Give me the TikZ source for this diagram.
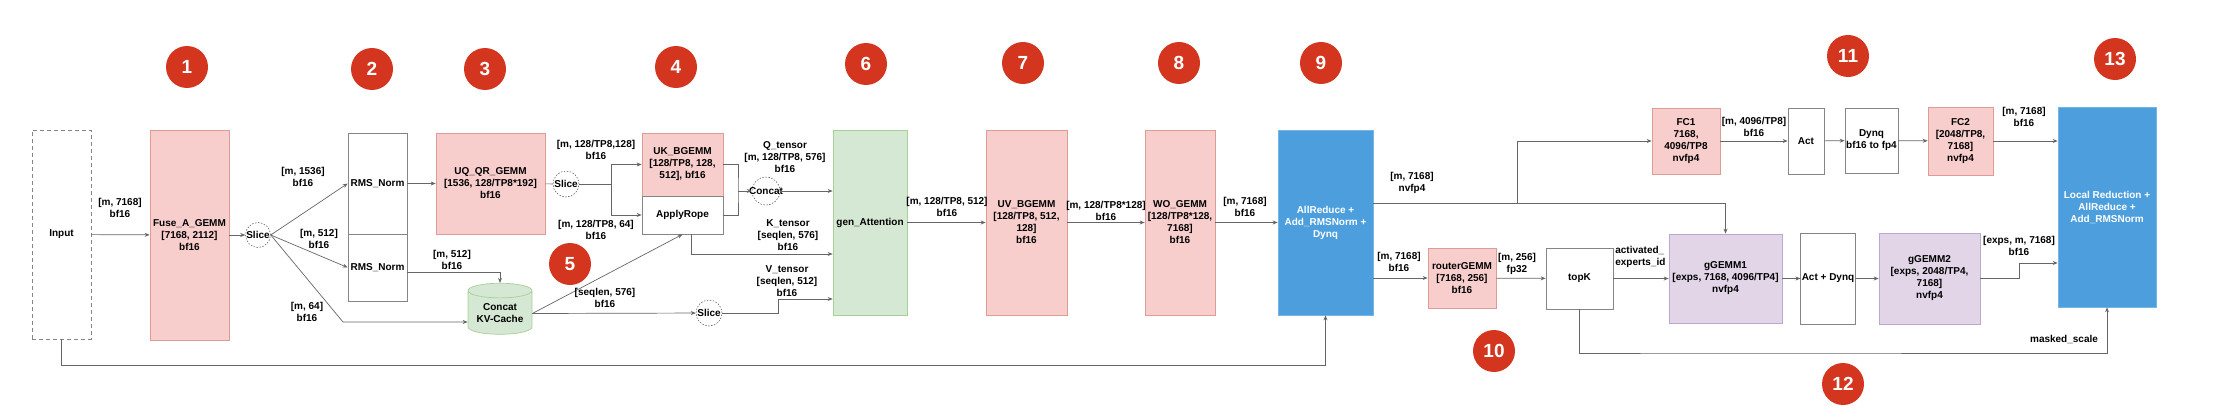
\documentclass[tikz,border=0pt]{standalone}
\usepackage{fontspec}
\setmainfont{Liberation Sans}
\usetikzlibrary{arrows.meta,shapes.geometric}
\definecolor{wire}{HTML}{666666}
\definecolor{boxline}{HTML}{858585}
\definecolor{gemmfill}{HTML}{F8CECC}
\definecolor{gemmline}{HTML}{DE9C99}
\definecolor{attnfill}{HTML}{D5E8D4}
\definecolor{attnline}{HTML}{A9CF97}
\definecolor{moefill}{HTML}{E1D5E7}
\definecolor{moeline}{HTML}{BBA8CF}
\definecolor{redfill}{HTML}{4C9FDC}
\definecolor{redline}{HTML}{74B6E6}
\definecolor{badgered}{HTML}{D3351F}

\begin{document}
\begin{tikzpicture}[x=1pt, y=-1pt, line width=0.7pt,
	 >={Stealth[length=5pt, width=4pt]},
	 font=\fontsize{10}{12}\selectfont\bfseries,
	 every path/.style={draw=wire},
	 box/.style={draw=boxline, fill=white, align=center, inner sep=1pt},
	 gemm/.style={box, draw=gemmline, fill=gemmfill},
	 attnbox/.style={box, draw=attnline, fill=attnfill},
	 moebox/.style={box, draw=moeline, fill=moefill},
	 commbox/.style={box, draw=redline, fill=redfill, text=white},
	 slicer/.style={circle, draw=black!70, dash pattern=on 1.5pt off 1.5pt, line width=0.5pt, minimum size=#1, inner sep=0pt},
	 lbl/.style={align=center, inner sep=0pt},
	 badge/.style={circle, fill=badgered, draw=none, text=white, minimum size=42pt, inner sep=0pt, font=\fontsize{19}{19}\selectfont\bfseries}]
	\useasboundingbox[draw=none] (0,0) rectangle (2240,420);
	    \node (b1) at (187,67) [badge] {1};
	    \node (b2) at (372,69) [badge] {2};
	    \node (b3) at (485,69) [badge] {3};
	    \node (b4) at (676,67) [badge] {4};
	    \node (b5) at (570,264) [badge] {5};
	    \node (b6) at (866,64) [badge] {6};
	    \node (b7) at (1023,63) [badge] {7};
	    \node (b8) at (1179,63) [badge] {8};
	    \node (b9) at (1321,63) [badge] {9};
	    \node (b10) at (1494,351) [badge] {10};
	    \node (b11) at (1848,56) [badge] {11};
	    \node (b12) at (1843,384) [badge] {12};
	    \node (b13) at (2115,59) [badge] {13};
	    \node (input) at (61.5,234.5) [box, dash pattern=on 4pt off 3pt, minimum width=59pt, minimum height=209pt] {Input};
	    \node (fuse) at (189.5,235) [gemm, minimum width=79pt, minimum height=210pt] {Fuse\_A\_GEMM\\{}[7168, 2112]\\bf16};
	    \node (slice1) at (258,235) [slicer=25pt, label=center:Slice] {};
	    \node (rms1) at (377.5,183.5) [box, minimum width=59pt, minimum height=101pt] {RMS\_Norm};
	    \node (rms2) at (377.5,267.5) [box, minimum width=59pt, minimum height=67pt] {RMS\_Norm};
	    \node (uqqr) at (490.5,183.5) [gemm, minimum width=109pt, minimum height=101pt] {UQ\_QR\_GEMM\\{}[1536, 128/TP8*192]\\bf16};
	    \node (slice2) at (566,184) [slicer=26pt, label=center:Slice] {};
	    \node (ukb) at (682.5,164.5) [gemm, minimum width=81pt, minimum height=63pt] {UK\_BGEMM\\{}[128/TP8, 128,\\512], bf16};
	    \node (rope) at (682.5,215) [box, minimum width=81pt, minimum height=38pt] {ApplyRope};
	    \node (kvc) at (500,313.5) [cylinder, shape border rotate=90, aspect=0.3, draw=attnline, fill=attnfill, align=center, inner sep=1pt, minimum width=64pt, minimum height=51pt] {Concat\\KV-Cache};
	    \node (slice3) at (709,313) [slicer=26pt, label=center:Slice] {};
	    \node (concat) at (766,191) [slicer=28pt, label=center:Concat] {};
	    \coordinate (qsplit) at (611,184);
	    \coordinate (qjoin) at (738,191);
	    \node (attn) at (870,222.5) [attnbox, minimum width=74pt, minimum height=185pt] {gen\_Attention};
	    \node (uvb) at (1026.5,222.5) [gemm, minimum width=81pt, minimum height=185pt] {UV\_BGEMM\\{}[128/TP8, 512,\\128]\\bf16};
	    \node (wo) at (1180,222.5) [gemm, minimum width=70pt, minimum height=185pt] {WO\_GEMM\\{}[128/TP8*128,\\7168]\\bf16};
	    \node (allr) at (1325.5,222.5) [commbox, minimum width=95pt, minimum height=185pt] {AllReduce +\\Add\_RMSNorm +\\Dynq};
	    \node (router) at (1462,278) [gemm, minimum width=68pt, minimum height=60pt] {routerGEMM\\{}[7168, 256]\\bf16};
	    \node (topk) at (1579.5,278.5) [box, minimum width=67pt, minimum height=61pt] {topK};
	    \node (ggemm1) at (1725.5,278.5) [moebox, minimum width=113pt, minimum height=89pt] {gGEMM1\\{}[exps, 7168, 4096/TP4]\\nvfp4};
	    \node (fc1) at (1686,141) [gemm, minimum width=68pt, minimum height=66pt] {FC1\\7168,\\4096/TP8\\nvfp4};
	    \node (act) at (1806,141) [box, minimum width=36pt, minimum height=66pt] {Act};
	    \node (dynq) at (1871.5,140.5) [box, minimum width=53pt, minimum height=65pt] {Dynq\\bf16 to fp4};
	    \node (fc2) at (1960.5,141) [gemm, minimum width=65pt, minimum height=68pt] {FC2\\{}[2048/TP8,\\7168]\\nvfp4};
	    \node (actdq) at (1828,278.5) [box, minimum width=54pt, minimum height=91pt] {Act + Dynq};
	    \node (ggemm2) at (1929.5,278.5) [moebox, minimum width=101pt, minimum height=91pt] {gGEMM2\\{}[exps, 2048/TP4,\\7168]\\nvfp4};
	    \node (localr) at (2107,207) [commbox, minimum width=98pt, minimum height=200pt] {Local Reduction +\\AllReduce +\\Add\_RMSNorm};
	    \draw[->] (input) -- (fuse);
	    \node (t1) at (120,208) [lbl] {[m, 7168]\\bf16};
	    \draw[->] (fuse) -- (slice1);
	    \draw[->] (slice1.east) -- (rms1.west);
	    \node (t2) at (303,177) [lbl] {[m, 1536]\\bf16};
	    \draw[->] (slice1.east) -- (rms2.west);
	    \node (t3) at (319,239) [lbl] {[m, 512]\\bf16};
	    \draw[->] (slice1.east) -- (343,322) -- ([yshift=-8.5pt]kvc.west);
	    \node (t4) at (307,312) [lbl] {[m, 64]\\bf16};
	    \draw[->] (rms1) -- (uqqr);
	    \draw[->] ([yshift=-4.5pt]rms2.east) -| (kvc.north);
	    \node (t5) at (452,260) [lbl] {[m, 512]\\bf16};
	    \draw (uqqr) -- (slice2);
	    \draw (slice2) -- (qsplit);
	    \draw[->] (qsplit) |- (ukb.west);
	    \draw[->] (qsplit) |- (rope.west);
	    \node (t6) at (596,150) [lbl] {[m, 128/TP8,128]\\bf16};
	    \node (t7) at (596,230) [lbl] {[m, 128/TP8, 64]\\bf16};
	    \draw (ukb.east) -| (qjoin) |- (rope.east);
	    \draw[->] (qjoin) -- (concat);
	    \draw[->] (concat) -- (attn.west |- concat);
	    \node (t8) at (785,157) [lbl] {Q\_tensor\\{}[m, 128/TP8, 576]\\bf16};
	    \draw[->] ([xshift=9pt]rope.south) |- (attn.west |- 0,254);
	    \node (t9) at (788,235) [lbl] {K\_tensor\\{}[seqlen, 576]\\bf16};
	    \draw[->] (kvc.east) -- (rope.south);
	    \node (t10) at (605,298) [lbl] {[seqlen, 576]\\bf16};
	    \draw[->] (kvc.east) -- (slice3);
	    \draw[->] (slice3) -- (778,313) |- (attn.west |- 0,299);
	    \node (t11) at (787,281) [lbl] {V\_tensor\\{}[seqlen, 512]\\bf16};
	    \draw[->] (attn) -- (uvb);
	    \node (t12) at (947,207) [lbl] {[m, 128/TP8, 512]\\bf16};
	    \draw[->] (uvb) -- (wo);
	    \node (t13) at (1106,211) [lbl] {[m, 128/TP8*128]\\bf16};
	    \draw[->] (wo) -- (allr);
	    \node (t14) at (1245,207) [lbl] {[m, 7168]\\bf16};
	    \draw[->] ([yshift=19.5pt]allr.east) -| (ggemm1.north);
	    \draw[->] (1517,203) |- (fc1.west);
	    \node (t15) at (1412,183) [lbl] {[m, 7168]\\nvfp4};
	    \draw[->] (allr.east |- router) -- (router);
	    \node (t16) at (1399,262) [lbl] {[m, 7168]\\bf16};
	    \draw[->] (router) -- (topk);
	    \node (t17) at (1517,264) [lbl] {[m, 256]\\fp32};
	    \draw[->] (topk) -- (ggemm1);
	    \node (t18) at (1615,257) [lbl, anchor=west, align=left] {activated\_\\experts\_id};
	    \draw[->] (topk.south) |- (1700,353) -| (localr.south);
	    \node (t19) at (2064,339) [lbl] {masked\_scale};
	    \draw[->] (fc1) -- (act);
	    \node (t20) at (1754,127) [lbl] {[m, 4096/TP8]\\bf16};
	    \draw[->] (act) -- (dynq);
	    \draw[->] (dynq) -- (fc2);
	    \draw[->] (fc2) -- (localr.west |- fc2);
	    \node (t21) at (2024,117) [lbl] {[m, 7168]\\bf16};
	    \draw[->] (ggemm1) -- (actdq);
	    \draw[->] (actdq) -- (ggemm2);
	    \draw[->] (ggemm2.east) -- (2019,278.5) |- (localr.west |- 0,263);
	    \node (t22) at (2019,246) [lbl] {[exps, m, 7168]\\bf16};
	    \draw[->] (input.south) |- (allr.south |- 0,365) -- (allr.south);
	 \end{tikzpicture}
\end{document}
